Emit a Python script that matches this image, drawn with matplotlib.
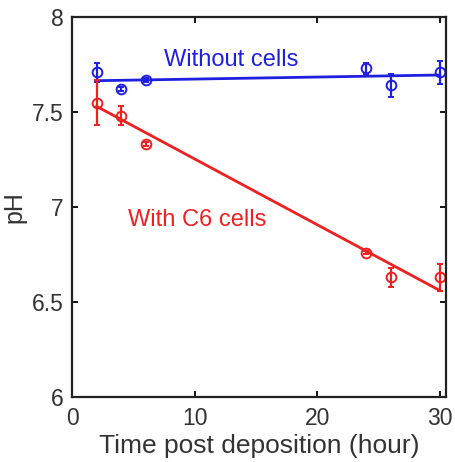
import numpy as np
import matplotlib.pyplot as plt

plt.rcParams['font.family'] = ['Liberation Sans', 'DejaVu Sans']

# data
t = [2, 4, 6, 24, 26, 30]
ph_without = [7.71, 7.62, 7.67, 7.73, 7.64, 7.71]
err_without = [0.05, 0.01, 0.01, 0.03, 0.06, 0.06]
ph_with = [7.55, 7.48, 7.33, 6.76, 6.63, 6.63]
err_with = [0.12, 0.05, 0.01, 0.01, 0.05, 0.07]

fit_t = [2, 30]
fit_without = [7.665, 7.695]
fit_with = [7.53, 6.56]

blue = "#1f1fe0"
red = "#ee2020"

fig = plt.figure(figsize=(4.56, 4.62), dpi=100)
ax = fig.add_axes([0.158, 0.141, 0.82, 0.822])

ax.errorbar(t, ph_without, yerr=err_without, fmt="o", mfc="none", mec=blue,
            ecolor=blue, ms=7, mew=1.4, elinewidth=1.6, capsize=2.5, capthick=1.6)
ax.plot(fit_t, fit_without, color=blue, lw=2)
ax.errorbar(t, ph_with, yerr=err_with, fmt="o", mfc="none", mec=red,
            ecolor=red, ms=7, mew=1.4, elinewidth=1.6, capsize=2.5, capthick=1.6)
ax.plot(fit_t, fit_with, color=red, lw=2)

ax.text(7.5, 7.775, "Without cells", color=blue, fontsize=17, va="center")
ax.text(4.6, 6.93, "With C6 cells", color=red, fontsize=17, va="center")

ax.set_xlim(0, 30.5)
ax.set_ylim(6, 8)
ax.set_xticks([0, 10, 20, 30])
ax.set_yticks([6, 6.5, 7, 7.5, 8])
ax.set_yticklabels(["6", "6.5", "7", "7.5", "8"])
ax.tick_params(direction="in", top=True, right=True, labelsize=16.5,
               labelcolor="#333333", width=1.3, length=4)
ax.tick_params(axis="x", pad=7)
ax.tick_params(axis="y", pad=6)
for s in ax.spines.values():
    s.set_linewidth(1.6)
    s.set_color("#222222")
ax.set_xlabel("Time post deposition (hour)", fontsize=19, color="#333333", labelpad=3)
ax.set_ylabel("pH", fontsize=18, color="#333333", labelpad=4)

fig.savefig("out.png", dpi=100)
